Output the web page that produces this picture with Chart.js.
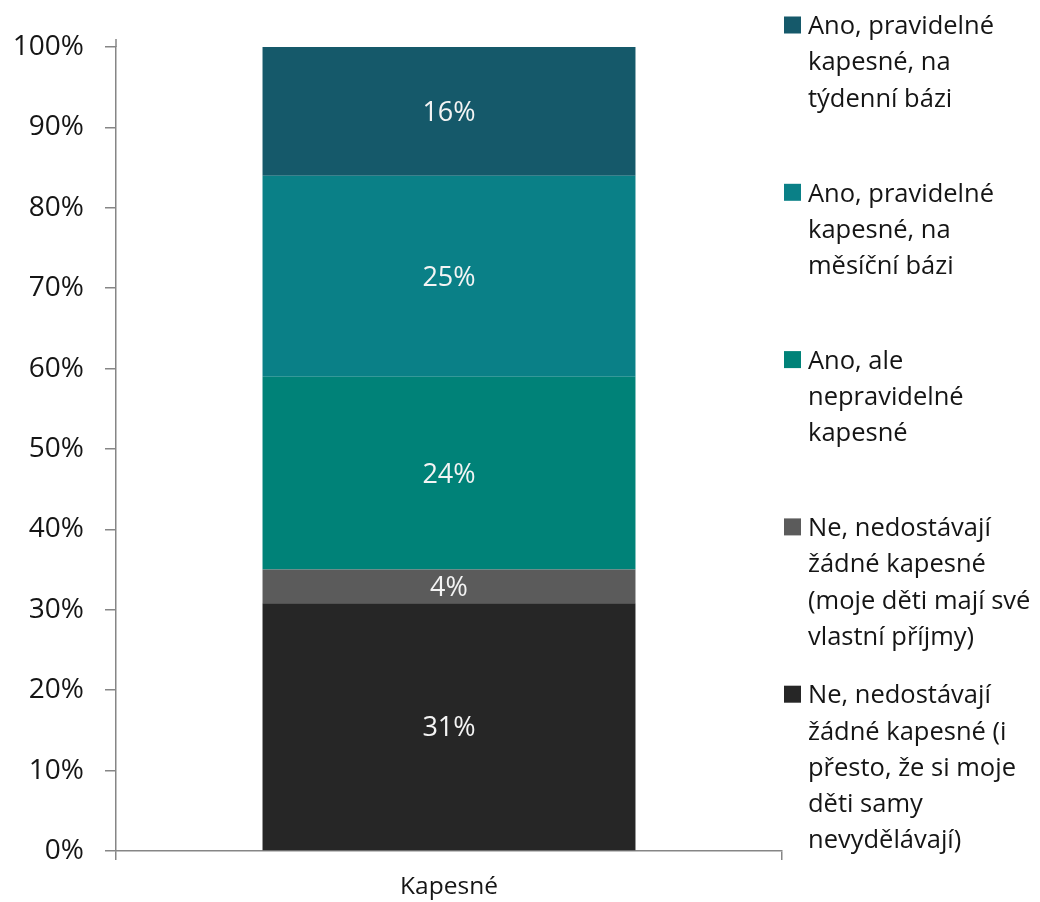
<!DOCTYPE html>
<html lang="cs">
<head>
<meta charset="utf-8">
<title>Kapesné</title>
<script src="https://cdn.jsdelivr.net/npm/chart.js@4.4.1/dist/chart.umd.min.js"></script>
<style>
  body { margin: 0; background: #ffffff; }
  #wrap { width: 1040px; height: 902px; }
</style>
</head>
<body>
<div id="wrap"><canvas id="chart" width="1040" height="902"></canvas></div>
<script>
// data (stack order: bottom -> top)
const categories = ["Kapesné"]
const seriesNames = [
  "Ne, nedostávají žádné kapesné (i přesto, že si moje děti samy nevydělávají)",
  "Ne, nedostávají žádné kapesné (moje děti mají své vlastní příjmy)",
  "Ano, ale nepravidelné kapesné",
  "Ano, pravidelné kapesné, na měsíční bázi",
  "Ano, pravidelné kapesné, na týdenní bázi",
]
const nevydelavaji = [30.8]
const vlastniPrijmy = [4.2]
const nepravidelne = [24.0]
const mesicni = [25.0]
const tydenni = [16.0]
const yTicks = [0, 10, 20, 30, 40, 50, 60, 70, 80, 90, 100]

// legend text broken into lines as in the original
const legendLines = [
  ["Ne, nedostávají", "žádné kapesné (i", "přesto, že si moje", "děti samy", "nevydělávají)"],
  ["Ne, nedostávají", "žádné kapesné", "(moje děti mají své", "vlastní příjmy)"],
  ["Ano, ale", "nepravidelné", "kapesné"],
  ["Ano, pravidelné", "kapesné, na", "měsíční bázi"],
  ["Ano, pravidelné", "kapesné, na", "týdenní bázi"],
]

const colors = ["#262626", "#5b5b5b", "#008278", "#0a8087", "#15596a"]
const FONT = "'Open Sans', 'Noto Sans', sans-serif"
const TEXT = "#151515"
const AXIS = "#868686"

const seriesValues = [nevydelavaji, vlastniPrijmy, nepravidelne, mesicni, tydenni]

// white percentage labels in the middle of each segment
const segmentLabels = {
  id: "segmentLabels",
  afterDatasetsDraw(chart) {
    const ctx = chart.ctx
    ctx.save()
    ctx.font = "27px " + FONT
    ctx.fillStyle = "#f4f4f4"
    ctx.textAlign = "center"
    ctx.textBaseline = "middle"
    chart.data.datasets.forEach((ds, i) => {
      chart.getDatasetMeta(i).data.forEach((bar, j) => {
        const v = ds.data[j]
        const y = (bar.y + bar.base) / 2 + 2
        ctx.fillText(Math.round(v) + "%", bar.x, y)
      })
    })
    ctx.restore()
  },
}

// legend on the right, top series first
const sideLegend = {
  id: "sideLegend",
  afterDraw(chart) {
    const ctx = chart.ctx
    const area = chart.chartArea
    ctx.save()
    ctx.font = "25.5px " + FONT
    ctx.textBaseline = "middle"
    ctx.textAlign = "left"
    const n = chart.data.datasets.length
    for (let k = 0; k < n; k++) {
      const i = n - 1 - k
      const top = 25 + k * 167.3
      ctx.fillStyle = colors[i]
      ctx.fillRect(784, top - 8.5, 17, 17)
      ctx.fillStyle = TEXT
      legendLines[i].forEach((line, l) => {
        ctx.fillText(line, 808, top + 2 + l * 36.2)
      })
    }
    // y axis line runs a bit above the 100% tick
    ctx.strokeStyle = AXIS
    ctx.lineWidth = 1.5
    ctx.beginPath()
    ctx.moveTo(area.left, area.top)
    ctx.lineTo(area.left, area.top - 8)
    ctx.stroke()
    ctx.restore()
  },
}

const datasets = seriesValues.map((vals, i) => ({
  label: seriesNames[i],
  data: vals,
  backgroundColor: colors[i],
  borderWidth: 0,
  barPercentage: 0.56,
  categoryPercentage: 1,
}))

new Chart(document.getElementById("chart").getContext("2d"), {
  type: "bar",
  data: { labels: categories, datasets: datasets },
  options: {
    responsive: false,
    animation: false,
    layout: { padding: { left: 0, right: 258, top: 47, bottom: 0 } },
    plugins: {
      legend: { display: false },
      tooltip: { enabled: false },
    },
    scales: {
      x: {
        stacked: true,
        grid: {
          offset: true,
          drawOnChartArea: false,
          drawTicks: true,
          tickLength: 9,
          color: AXIS,
          lineWidth: 1.5,
        },
        border: { color: AXIS, width: 1.5 },
        ticks: {
          color: TEXT,
          font: { family: FONT, size: 24.5 },
          padding: 12,
        },
        afterFit(scale) {
          scale.height = 51
        },
      },
      y: {
        stacked: true,
        min: 0,
        max: 100,
        afterBuildTicks(scale) {
          scale.ticks = yTicks.map((v) => ({ value: v }))
        },
        grid: {
          drawOnChartArea: false,
          drawTicks: true,
          tickLength: 11,
          color: AXIS,
          lineWidth: 1.5,
        },
        border: { color: AXIS, width: 1.5 },
        ticks: {
          color: TEXT,
          font: { family: FONT, size: 28 },
          padding: 21,
          callback: (v) => v + "%",
        },
        afterFit(scale) {
          scale.width = 116
        },
      },
    },
  },
  plugins: [segmentLabels, sideLegend],
})
</script>
</body>
</html>
